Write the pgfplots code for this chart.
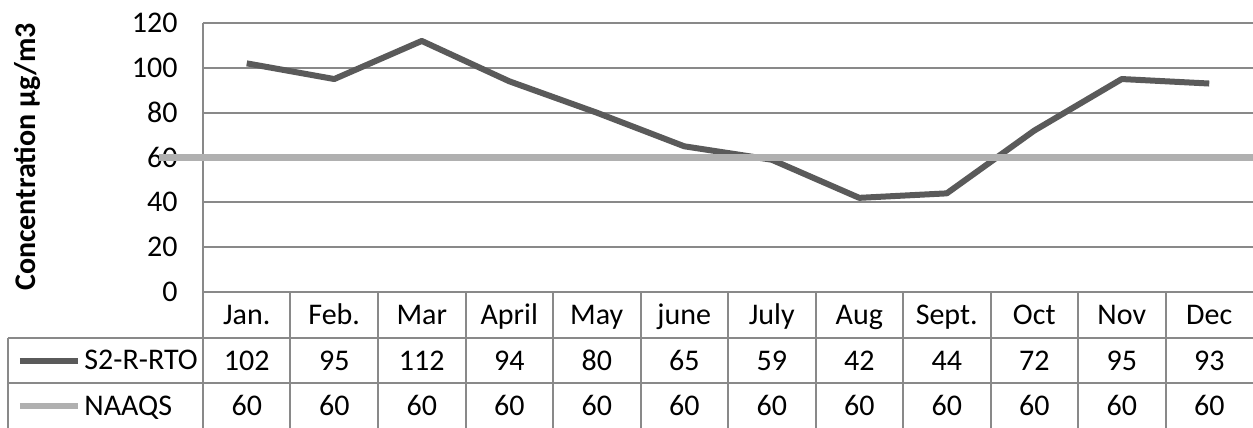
\documentclass[border=0pt]{standalone}
\usepackage{fontspec}
\setmainfont{Carlito}
\usepackage{pgfplots}
\pgfplotsset{compat=1.18}
\usepackage{pgfplotstable}
\definecolor{sline}{HTML}{5A5A5A}
\definecolor{nline}{HTML}{B0B0B0}
\definecolor{gridc}{HTML}{898989}
\pgfplotstableread{
x month s2 naaqs
0 Jan. 102 60
1 Feb. 95 60
2 Mar 112 60
3 April 94 60
4 May 80 60
5 june 65 60
6 July 59 60
7 Aug 42 60
8 Sept. 44 60
9 Oct 72 60
10 Nov 95 60
11 Dec 93 60
}\data
\newcommand\tfs{\fontsize{15}{18}\selectfont}
\begin{document}
\begin{tikzpicture}
\begin{axis}[
  at={(0,0)}, anchor=south west,
  scale only axis, width=525pt, height=134.5pt,
  xmin=-0.5, xmax=11.5, ymin=0, ymax=120,
  ytick={0,20,...,120},
  ymajorgrids, grid style={gridc, line width=1pt},
  axis line style={draw=none},
  xtick={0,...,11},
  xticklabels from table={\data}{month},
  major tick length=0pt,
  /pgf/number format/assume math mode=true,
  tick label style={font=\tfs},
  xticklabel style={anchor=base, inner sep=0pt, yshift=-16.5pt},
  yticklabel style={anchor=east, inner sep=0pt, xshift=-12.5pt},
  clip=false,
  ylabel={\textbf{Concentration µg/m3}},
  every axis y label/.style={at={(axis cs:-0.5,0)}, xshift=-88pt, yshift=67.5pt, rotate=90, anchor=center, font=\tfs},
]
% table borders
\draw[gridc, line width=1pt] (axis cs:-0.5,120) -- ([yshift=-68pt]axis cs:-0.5,0);
\pgfplotsinvokeforeach{0.5,1.5,...,10.5}{
  \draw[gridc, line width=1pt] (axis cs:#1,0) -- ([yshift=-68pt]axis cs:#1,0);
}
\draw[gridc, line width=1pt] ([xshift=-97.5pt,yshift=-23pt]axis cs:-0.5,0) -- ([yshift=-23pt]axis cs:11.5,0);
\draw[gridc, line width=1pt] ([xshift=-97.5pt,yshift=-45.5pt]axis cs:-0.5,0) -- ([yshift=-45.5pt]axis cs:11.5,0);
\draw[gridc, line width=1pt] ([xshift=-97.5pt,yshift=-23pt]axis cs:-0.5,0) -- ([xshift=-97.5pt,yshift=-68pt]axis cs:-0.5,0);
% legend samples
\draw[sline, line width=3pt] ([xshift=-91.5pt,yshift=-34.5pt]axis cs:-0.5,0) -- ([xshift=-62.5pt,yshift=-34.5pt]axis cs:-0.5,0);
\draw[nline, line width=3pt] ([xshift=-91.5pt,yshift=-57pt]axis cs:-0.5,0) -- ([xshift=-62.5pt,yshift=-57pt]axis cs:-0.5,0);
\node[anchor=base west, inner sep=0pt, font=\tfs] at ([xshift=-59.5pt,yshift=-39pt]axis cs:-0.5,0) {S2-R-RTO};
\node[anchor=base west, inner sep=0pt, font=\tfs] at ([xshift=-59.5pt,yshift=-61.5pt]axis cs:-0.5,0) {NAAQS};
% series
\addplot[sline, line width=3pt, mark=none, line join=round] table[x=x, y=s2]{\data};
\addplot[nline, line width=3.5pt, mark=none, shorten <=-43.75pt, shorten >=-43.75pt] table[x=x, y=naaqs]{\data};
% table values
\addplot[draw=none, mark=none, nodes near coords, point meta=explicit symbolic,
  every node near coord/.append style={anchor=base, font=\tfs, inner sep=0pt}]
  table[x=x, y expr=-34.8, meta=s2]{\data};
\addplot[draw=none, mark=none, nodes near coords, point meta=explicit symbolic,
  every node near coord/.append style={anchor=base, font=\tfs, inner sep=0pt}]
  table[x=x, y expr=-54.87, meta=naaqs]{\data};
\end{axis}
\pgfresetboundingbox
\path (-101.5pt,-68pt) rectangle (525pt,146pt);
\end{tikzpicture}
\end{document}
